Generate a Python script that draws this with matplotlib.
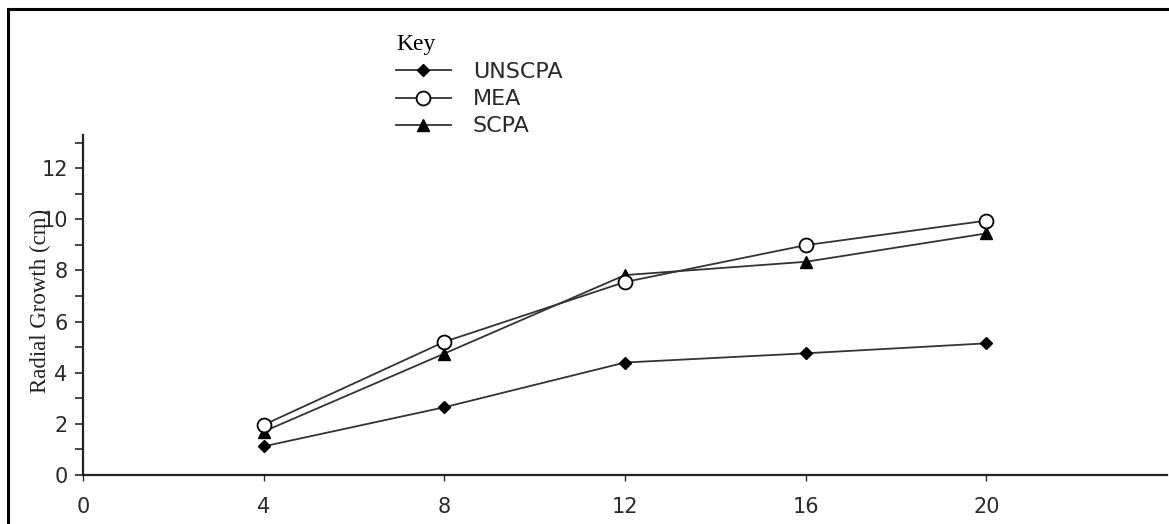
import matplotlib
matplotlib.use("Agg")
import matplotlib.pyplot as plt
from matplotlib.lines import Line2D
from matplotlib.patches import Rectangle
from matplotlib.ticker import MultipleLocator

# Incubation days and radial growth (cm) for each medium
days = [4, 8, 12, 16, 20]
unscpa = [1.12, 2.65, 4.40, 4.76, 5.15]
mea = [1.96, 5.21, 7.55, 8.99, 9.95]
scpa = [1.70, 4.75, 7.82, 8.34, 9.45]

x_ticks = [0, 4, 8, 12, 16, 20]
y_ticks = [0, 2, 4, 6, 8, 10, 12]
series_names = ["UNSCPA", "MEA", "SCPA"]

W, H = 1169, 524
fig = plt.figure(figsize=(W / 100, H / 100), dpi=100)
fig.patch.set_facecolor("white")

# outer frame (top and left edges visible)
fig.patches.append(Rectangle((8 / W, -0.05), 1.2, (H - 9) / H + 0.05,
                             transform=fig.transFigure, fill=False,
                             edgecolor="black", linewidth=2.2, zorder=0))

ax = fig.add_axes([83 / W, (H - 475) / H, (1167 - 83) / W, (475 - 135) / H])
ax.set_xlim(0, 24)
ax.set_ylim(0, 13.3)

for s in ("top", "right"):
    ax.spines[s].set_visible(False)
for s in ("left", "bottom"):
    ax.spines[s].set_linewidth(1.6)
    ax.spines[s].set_color("#222222")

ax.set_xticks(x_ticks)
ax.set_yticks(y_ticks)
ax.yaxis.set_minor_locator(MultipleLocator(1))
ax.tick_params(axis="y", which="both", direction="out", length=6, width=1.2,
               pad=5, labelsize=15, colors="#2a2a2a")
ax.tick_params(axis="x", which="major", direction="out", length=4, width=1.0,
               pad=12, labelsize=15, colors="#2a2a2a")
for lab in ax.get_xticklabels() + ax.get_yticklabels():
    lab.set_fontfamily("DejaVu Sans")

line_color = "#333333"
ax.plot(days, unscpa, color=line_color, lw=1.3, marker="D", ms=6,
        mfc="black", mec="black", clip_on=False, zorder=3)
ax.plot(days, mea, color=line_color, lw=1.3, marker="o", ms=10,
        mfc="white", mec="black", mew=1.3, clip_on=False, zorder=4)
ax.plot(days, scpa, color=line_color, lw=1.3, marker="^", ms=8,
        mfc="black", mec="black", clip_on=False, zorder=3)

fig.text(40 / W, (H - 301) / H, "Radial Growth (cm)", rotation=90,
         ha="center", va="center", fontsize=16.5,
         fontfamily="Liberation Serif", color="#222222")

handles = [
    Line2D([], [], color=line_color, lw=1.3, marker="D", ms=6,
           mfc="black", mec="black"),
    Line2D([], [], color=line_color, lw=1.3, marker="o", ms=10,
           mfc="white", mec="black", mew=1.3),
    Line2D([], [], color=line_color, lw=1.3, marker="^", ms=8,
           mfc="black", mec="black"),
]
leg = fig.legend(handles, series_names, title="Key",
                 loc="upper left", bbox_to_anchor=(385 / W, (H - 23) / H),
                 frameon=False, borderpad=0, handlelength=2.45,
                 handletextpad=1.0, labelspacing=0.32,
                 prop={"family": "DejaVu Sans", "size": 16},
                 alignment="left")
leg.get_title().set_fontfamily("Liberation Serif")
leg.get_title().set_fontsize(17)
for t in leg.get_texts():
    t.set_color("#2a2a2a")

fig.savefig("out.png", dpi=100, facecolor="white")
